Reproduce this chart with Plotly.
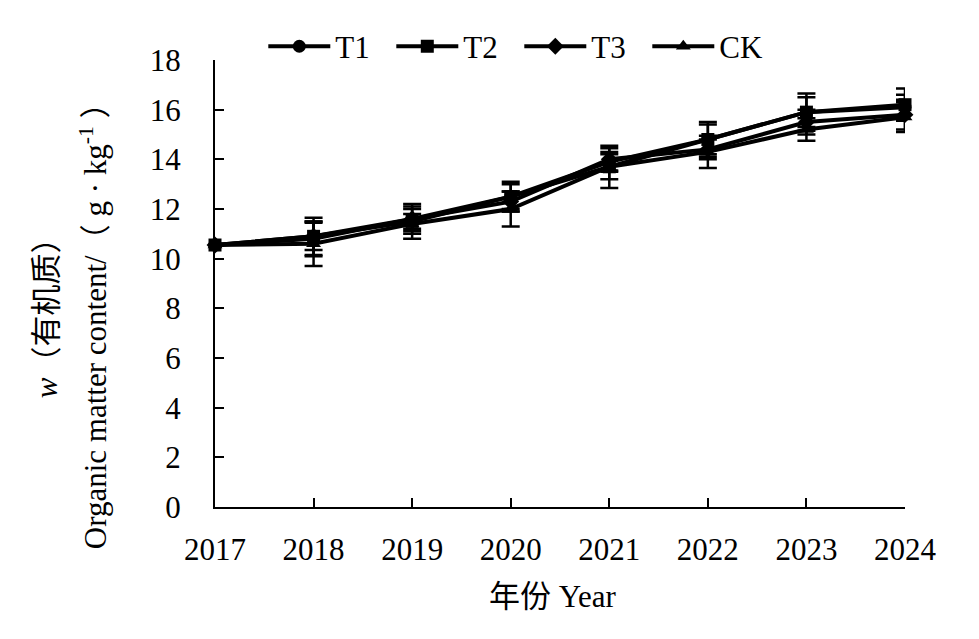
import plotly.graph_objects as go

years = [2017, 2018, 2019, 2020, 2021, 2022, 2023, 2024]

t1 = [10.55, 10.8, 11.6, 12.5, 13.9, 14.8, 15.9, 16.1]
t2 = [10.55, 10.9, 11.5, 12.5, 13.7, 14.8, 15.9, 16.2]
t3 = [10.55, 10.9, 11.6, 12.3, 14.0, 14.4, 15.5, 15.8]
ck = [10.55, 10.6, 11.4, 12.0, 13.7, 14.3, 15.2, 15.7]

t1_err = [0.0, 0.7, 0.5, 0.6, 0.4, 0.6, 0.75, 0.5]
t2_err = [0.0, 0.75, 0.7, 0.5, 0.85, 0.7, 0.6, 0.65]
t3_err = [0.0, 0.55, 0.4, 0.4, 0.45, 0.4, 0.5, 0.6]
ck_err = [0.0, 0.9, 0.4, 0.7, 0.5, 0.65, 0.45, 0.6]

series = [
    ("T1", t1, t1_err, "circle"),
    ("T2", t2, t2_err, "square"),
    ("T3", t3, t3_err, "diamond"),
    ("CK", ck, ck_err, "triangle-up"),
]

font_main = "Liberation Serif, Times New Roman, Noto Sans CJK SC, serif"

fig = go.Figure()
for name, vals, errs, sym in series:
    fig.add_trace(go.Scatter(
        x=years, y=vals, name=name, mode="lines+markers",
        line=dict(color="black", width=4),
        marker=dict(symbol=sym, size=13, color="black"),
        error_y=dict(type="data", array=errs, visible=True,
                     color="black", thickness=2.5, width=9),
        cliponaxis=False,
    ))

# page has ~8px body margin, so margins are shifted to compensate
fig.update_layout(
    width=979, height=639,
    margin=dict(l=207, r=82, t=50, b=140),
    paper_bgcolor="white", plot_bgcolor="white",
    font=dict(family=font_main, size=31, color="black"),
    showlegend=True,
    legend=dict(orientation="h", x=0.07, y=1.03, xanchor="left", yanchor="middle",
                itemwidth=62, entrywidth=51, entrywidthmode="pixels",
                font=dict(size=31), bgcolor="rgba(0,0,0,0)"),
    xaxis=dict(range=[2017, 2024], tickvals=years, ticktext=[str(y) for y in years],
               showgrid=False, zeroline=False, showline=True, linecolor="black",
               linewidth=2, ticks="inside", ticklen=9, tickwidth=2, tickcolor="black",
               ticklabelstandoff=14, tickfont=dict(size=31), automargin=False),
    yaxis=dict(range=[0, 18], dtick=2, showgrid=False, zeroline=False,
               showline=True, linecolor="black", linewidth=2,
               ticks="inside", ticklen=9, tickwidth=2, tickcolor="black",
               ticklabelstandoff=26, tickfont=dict(size=31), automargin=False),
    annotations=[
        dict(text="<i>w</i>（有机质）", x=-0.245, y=0.44, xref="paper", yref="paper",
             xanchor="center", yanchor="middle",
             textangle=-90, showarrow=False, font=dict(size=31)),
        dict(text="Organic matter content/（ g · kg<sup>-1</sup> ）", x=-0.175, y=0.423,
             xref="paper", yref="paper", xanchor="center", yanchor="middle",
             textangle=-90, showarrow=False, font=dict(size=31)),
        dict(text="年份 Year", x=0.49, y=-0.2, xref="paper", yref="paper",
             xanchor="center", yanchor="middle",
             showarrow=False, font=dict(size=31)),
    ],
)

fig.write_html("out.html")
